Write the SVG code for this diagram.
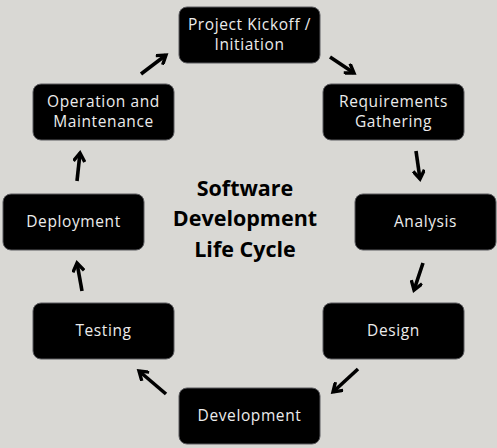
<svg xmlns="http://www.w3.org/2000/svg" width="497" height="448" viewBox="0 0 497 448">
<defs>
<style>
.box{fill:#000;stroke:#5a5a5e;stroke-width:1}
.lbl{font-family:"Open Sans","Liberation Sans",sans-serif;font-size:15.5px;fill:#ececec;text-anchor:middle;letter-spacing:0.6px}
.title{font-family:"Open Sans","Liberation Sans",sans-serif;font-size:21.5px;font-weight:bold;fill:#000;text-anchor:middle}
.arr{stroke:#000;stroke-width:3.6;fill:none;marker-end:url(#ah)}
</style>
<marker id="ah" viewBox="0 0 13 13" refX="10" refY="6.5" markerWidth="13" markerHeight="13" markerUnits="userSpaceOnUse" orient="auto">
<path d="M1.5,0.8 L10,6.5 L1.5,12.2" fill="none" stroke="#000" stroke-width="3.4"/>
</marker>
</defs>
<rect width="497" height="448" fill="#d9d8d4"/>
<g id="title">
<text class="title" x="245" y="196">Software</text>
<text class="title" x="245" y="226">Development</text>
<text class="title" x="245" y="257">Life Cycle</text>
</g>
<g id="kickoff"><rect class="box" x="179" y="7" width="141" height="56" rx="8"/><text class="lbl" x="249.5" y="30">Project Kickoff /</text><text class="lbl" x="249.5" y="50">Initiation</text></g>
<g id="requirements"><rect class="box" x="323" y="84" width="141" height="56" rx="8"/><text class="lbl" x="393.5" y="107">Requirements</text><text class="lbl" x="393.5" y="127">Gathering</text></g>
<g id="analysis"><rect class="box" x="355" y="194" width="141" height="56" rx="8"/><text class="lbl" x="425.5" y="227">Analysis</text></g>
<g id="design"><rect class="box" x="323" y="303" width="141" height="56" rx="8"/><text class="lbl" x="393.5" y="336">Design</text></g>
<g id="development"><rect class="box" x="179" y="388" width="141" height="56" rx="8"/><text class="lbl" x="249.5" y="421">Development</text></g>
<g id="testing"><rect class="box" x="33" y="303" width="141" height="56" rx="8"/><text class="lbl" x="103.5" y="336">Testing</text></g>
<g id="deployment"><rect class="box" x="3" y="194" width="141" height="56" rx="8"/><text class="lbl" x="73.5" y="227">Deployment</text></g>
<g id="operation"><rect class="box" x="33" y="84" width="141" height="56" rx="8"/><text class="lbl" x="103.5" y="107">Operation and</text><text class="lbl" x="103.5" y="127">Maintenance</text></g>
<g id="connectors">
<line class="arr" x1="141" y1="74" x2="166" y2="55"/>
<line class="arr" x1="330" y1="57" x2="354" y2="73"/>
<line class="arr" x1="416" y1="151" x2="420" y2="179"/>
<line class="arr" x1="423" y1="263" x2="414" y2="290"/>
<line class="arr" x1="358" y1="369" x2="333" y2="392"/>
<line class="arr" x1="166" y1="394" x2="139" y2="371"/>
<line class="arr" x1="82" y1="291" x2="77" y2="263"/>
<line class="arr" x1="77" y1="181" x2="80" y2="153"/>
</g>
</svg>
